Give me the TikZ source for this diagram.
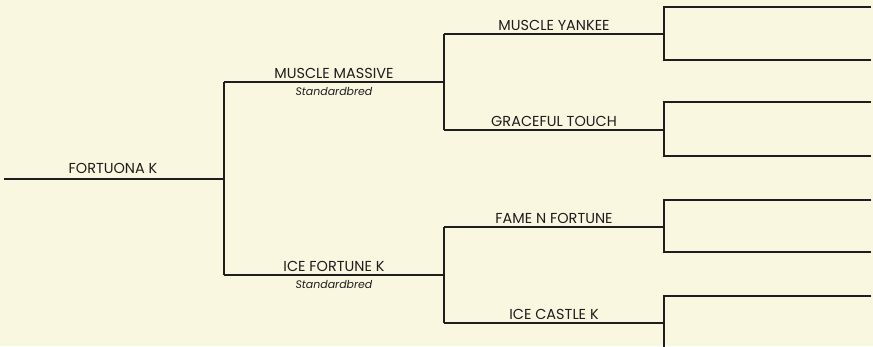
\documentclass[tikz,border=0pt]{standalone}
\usepackage{fontspec}
\setmainfont{Poppins}
\definecolor{bg}{HTML}{FAF7E1}
\definecolor{ink}{HTML}{1E1E1E}
\definecolor{shade}{HTML}{9A9A90}
\begin{document}
\begin{tikzpicture}[x=1bp,y=-1bp,
  ped/.style={draw=ink,line width=1.2bp},
  shd/.style={draw=shade,line width=1.2bp},
  horse/.style={font=\fontsize{14.5}{16}\selectfont,text=ink,anchor=base,inner sep=0pt},
  breed/.style={font=\fontsize{11}{12}\itshape\selectfont,text=ink,anchor=base,inner sep=0pt}]
\fill[bg] (0,0) rectangle (873,346);
\useasboundingbox (0,0) rectangle (873,346);
% coordinates
\coordinate (g0a) at (4,179);   \coordinate (g0b) at (224,179);
\coordinate (g1ta) at (224,82); \coordinate (g1tb) at (444,82);
\coordinate (g1ba) at (224,275);\coordinate (g1bb) at (444,275);
\coordinate (g2aa) at (444,34); \coordinate (g2ab) at (664,34);
\coordinate (g2ba) at (444,130);\coordinate (g2bb) at (664,130);
\coordinate (g2ca) at (444,227);\coordinate (g2cb) at (664,227);
\coordinate (g2da) at (444,323);\coordinate (g2db) at (664,323);
% gen 3 boxes
\coordinate (b1t) at (664,7);   \coordinate (b1te) at (871,7);
\coordinate (b1b) at (664,60);  \coordinate (b1be) at (871,60);
\coordinate (b2t) at (664,102); \coordinate (b2te) at (871,102);
\coordinate (b2b) at (664,156); \coordinate (b2be) at (871,156);
\coordinate (b3t) at (664,200); \coordinate (b3te) at (871,200);
\coordinate (b3b) at (664,252); \coordinate (b3be) at (871,252);
\coordinate (b4t) at (664,296); \coordinate (b4te) at (871,296);
\coordinate (b4b) at (664,350);
% shadows
\begin{scope}[shift={(0.8,0.8)}]
\draw[shd] (g0a) -- (g0b);
\draw[shd] (g1ta) -- (g1ba);
\draw[shd] (g1ta) -- (g1tb);
\draw[shd] (g1ba) -- (g1bb);
\draw[shd] (g2aa) -- (g2ba);
\draw[shd] (g2ca) -- (g2da);
\draw[shd] (g2aa) -- (g2ab);
\draw[shd] (g2ba) -- (g2bb);
\draw[shd] (g2ca) -- (g2cb);
\draw[shd] (g2da) -- (g2db);
\draw[shd] (b1te) -- (b1t) -- (b1b) -- (b1be);
\draw[shd] (b2te) -- (b2t) -- (b2b) -- (b2be);
\draw[shd] (b3te) -- (b3t) -- (b3b) -- (b3be);
\draw[shd] (b4te) -- (b4t) -- (b4b);
\end{scope}
% lines
\draw[ped] (g0a) -- (g0b);
\draw[ped] (g1ta) -- (g1ba);
\draw[ped] (g1ta) -- (g1tb);
\draw[ped] (g1ba) -- (g1bb);
\draw[ped] (g2aa) -- (g2ba);
\draw[ped] (g2ca) -- (g2da);
\draw[ped] (g2aa) -- (g2ab);
\draw[ped] (g2ba) -- (g2bb);
\draw[ped] (g2ca) -- (g2cb);
\draw[ped] (g2da) -- (g2db);
\draw[ped] (b1te) -- (b1t) -- (b1b) -- (b1be);
\draw[ped] (b2te) -- (b2t) -- (b2b) -- (b2be);
\draw[ped] (b3te) -- (b3t) -- (b3b) -- (b3be);
\draw[ped] (b4te) -- (b4t) -- (b4b);
% labels
\node[horse] (n0) at (113,173) {FORTUONA K};
\node[horse] (n1) at (334,78) {MUSCLE MASSIVE};
\node[breed] (s1) at (334,95) {Standardbred};
\node[horse] (n2) at (334,271) {ICE FORTUNE K};
\node[breed] (s2) at (334,288) {Standardbred};
\node[horse] (n3) at (554,30) {MUSCLE YANKEE};
\node[horse] (n4) at (554,126) {GRACEFUL TOUCH};
\node[horse] (n5) at (554,223) {FAME N FORTUNE};
\node[horse] (n6) at (554,319) {ICE CASTLE K};
\end{tikzpicture}
\end{document}
